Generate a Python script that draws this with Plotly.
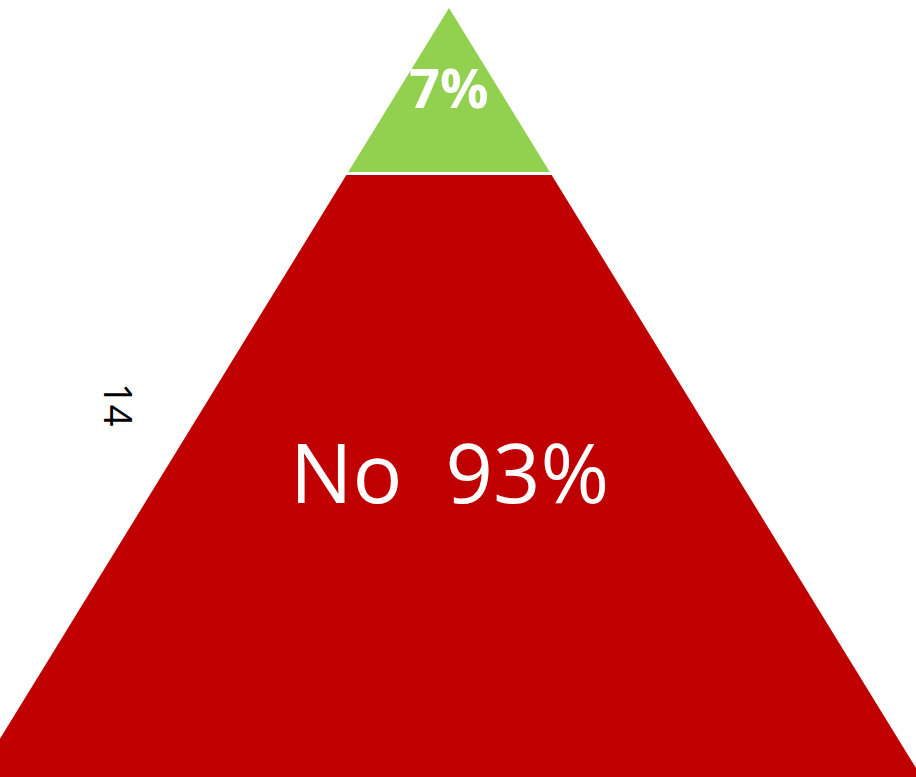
import plotly.graph_objects as go
import numpy as np

# Data
categories = ["Yes", "No"]
values = [7, 93]
labels = ["7%", "No  93%"]
colors = ["#92D050", "#C00000"]
side_label = "14"

# Pyramid geometry: segment depths proportional to sqrt(value)
roots = np.sqrt(values)
bounds = np.concatenate([[0], np.cumsum(roots) / roots.sum()])
slope = 102 / 166  # half-width per unit depth

fig = go.Figure()
for i, cat in enumerate(categories):
    t0, t1 = bounds[i], bounds[i + 1]
    t1b = t1 + 0.05 if i == len(categories) - 1 else t1
    xs = [-slope * t0, slope * t0, slope * t1b, -slope * t1b, -slope * t0]
    ys = [t0, t0, t1b, t1b, t0]
    fig.add_trace(go.Scatter(
        x=xs, y=ys, fill="toself", fillcolor=colors[i], mode="lines",
        line=dict(color=colors[i], width=0),
        hoverinfo="skip", showlegend=False, name=cat))

# white separator between segments
for b in bounds[1:-1]:
    fig.add_trace(go.Scatter(
        x=[-slope * b - 0.01, slope * b + 0.01], y=[b, b], mode="lines",
        line=dict(color="white", width=3), hoverinfo="skip", showlegend=False))

fig.add_annotation(x=0, y=(bounds[0] + bounds[1]) / 2, text="<b>" + labels[0] + "</b>",
                   showarrow=False, yshift=4,
                   font=dict(family="Open Sans", size=54, color="white"))
fig.add_annotation(x=0, y=(bounds[1] + bounds[2]) / 2, text=labels[1],
                   showarrow=False, yshift=5,
                   font=dict(family="Open Sans", size=83, color="white"))
fig.add_annotation(x=(119 - 449) / 769, y=(404 - 8) / 769, text=side_label, textangle=90,
                   showarrow=False, font=dict(family="Open Sans", size=38, color="black"))

fig.update_xaxes(range=[-449 / 769, (916 - 449) / 769], visible=False, fixedrange=True)
fig.update_yaxes(range=[1.0, -8 / 769], visible=False, fixedrange=True)
fig.update_layout(width=916, height=777, margin=dict(l=0, r=0, t=0, b=0),
                  plot_bgcolor="white", paper_bgcolor="white")
fig.write_html("out.html")
